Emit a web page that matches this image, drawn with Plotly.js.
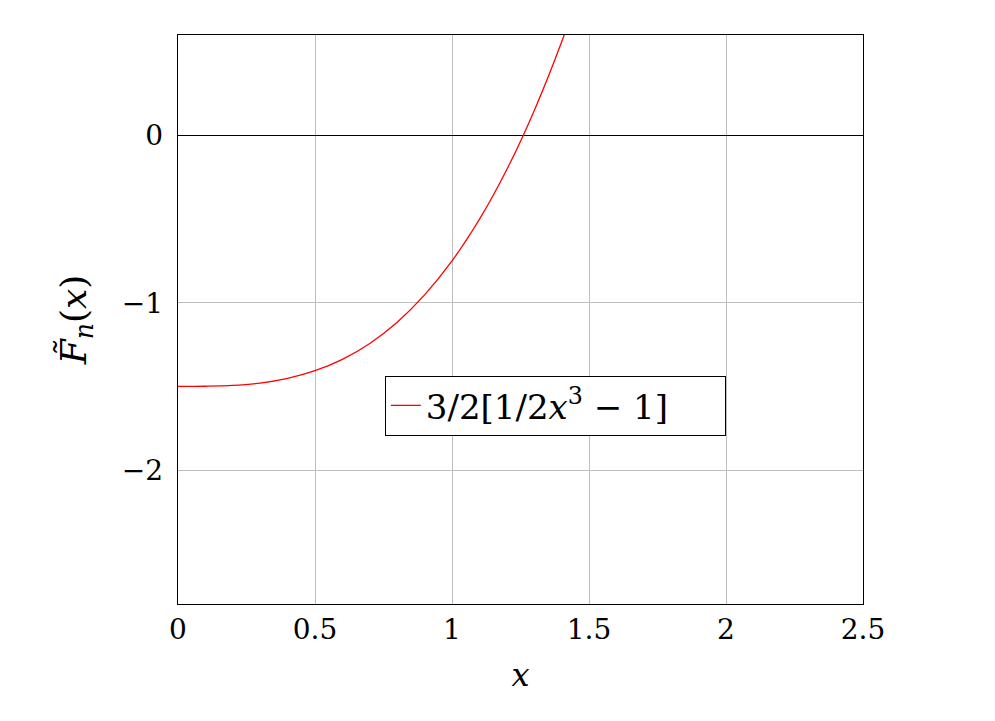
<!DOCTYPE html>
<html>
<head>
<meta charset="utf-8">
<script src="https://cdn.plot.ly/plotly-3.0.1.min.js"></script>
<style>
  body { margin: 0; background: #fff; }
  #chart { width: 995px; height: 721px; }
</style>
</head>
<body>
<div id="chart"></div>
<script>
// values
var xVals = [0, 0.1, 0.2, 0.3, 0.4, 0.5, 0.6, 0.7, 0.8, 0.9, 1.0, 1.1, 1.2, 1.3, 1.4, 1.5];
var yVals = [-1.5, -1.499, -1.494, -1.48, -1.452, -1.406, -1.338, -1.243, -1.116, -0.953, -0.75, -0.502, -0.204, 0.148, 0.558, 1.03];
var xTicks = [0, 0.5, 1, 1.5, 2, 2.5];
var xTickText = ['0', '0.5', '1', '1.5', '2', '2.5'];
var yTicks = [-2, -1, 0];
var yTickText = ['\u22122', '\u22121', '0'];
var seriesName = '3/2[1/2<i>x</i><sup>3</sup> \u2212 1]';

var serif = 'DejaVu Serif';

var trace1 = {
  x: xVals,
  y: yVals,
  type: 'scatter',
  mode: 'lines',
  name: seriesName,
  line: {color: 'rgb(255,0,0)', width: 1.3, shape: 'spline'},
  cliponaxis: true
};

var layout = {
  width: 995,
  height: 721,
  margin: {l: 178, r: 132, t: 35, b: 117},
  paper_bgcolor: '#fff',
  plot_bgcolor: '#fff',
  font: {family: serif, size: 28, color: '#000'},
  showlegend: true,
  legend: {
    x: 0.302, y: 0.401, xanchor: 'left', yanchor: 'top',
    orientation: 'h',
    bordercolor: '#000', borderwidth: 1, bgcolor: '#fff',
    entrywidth: 294,
    font: {family: serif, size: 34}
  },
  xaxis: {
    range: [0, 2.5],
    tickvals: xTicks,
    ticktext: xTickText,
    showgrid: true,
    gridcolor: 'rgb(190,190,190)',
    gridwidth: 1,
    zeroline: false,
    showline: true,
    linecolor: '#000',
    linewidth: 1.3,
    mirror: true,
    ticks: '',
    tickfont: {family: serif, size: 28},
    title: {text: '<i>x</i>', font: {family: serif, size: 32}, standoff: 18}
  },
  yaxis: {
    range: [-2.8, 0.6],
    tickvals: yTicks,
    ticktext: yTickText,
    showgrid: true,
    gridcolor: 'rgb(190,190,190)',
    gridwidth: 1,
    zeroline: true,
    zerolinecolor: '#000',
    zerolinewidth: 1.3,
    showline: true,
    linecolor: '#000',
    linewidth: 1.3,
    mirror: true,
    ticks: '',
    ticklabelstandoff: 8,
    tickfont: {family: serif, size: 28},
    title: {text: '<i>F\u0303</i><sub><i>n</i></sub>(<i>x</i>)', font: {family: serif, size: 36}, standoff: 24}
  }
};

Plotly.newPlot('chart', [trace1], layout, {displayModeBar: false, staticPlot: true});
</script>
</body>
</html>
